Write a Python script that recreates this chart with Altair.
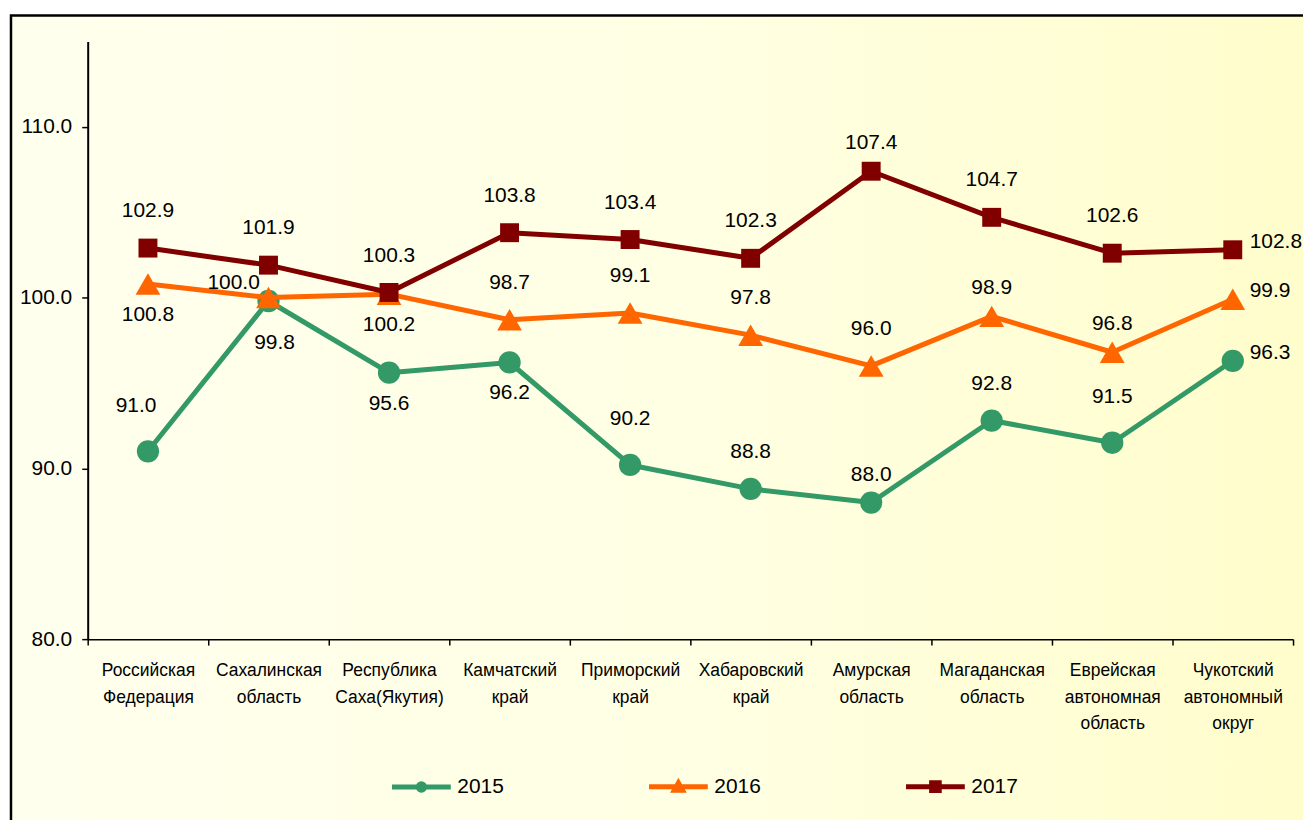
import altair as alt
import pandas as pd

# ---------------- data ----------------
REGIONS = [
    "Российская\nФедерация",
    "Сахалинская\nобласть",
    "Республика\nСаха(Якутия)",
    "Камчатский\nкрай",
    "Приморский\nкрай",
    "Хабаровский\nкрай",
    "Амурская\nобласть",
    "Магаданская\nобласть",
    "Еврейская\nавтономная\nобласть",
    "Чукотский\nавтономный\nокруг",
]
YEARS = ["2015", "2016", "2017"]
V2015 = [91.0, 99.8, 95.6, 96.2, 90.2, 88.8, 88.0, 92.8, 91.5, 96.3]
V2016 = [100.8, 100.0, 100.2, 98.7, 99.1, 97.8, 96.0, 98.9, 96.8, 99.9]
V2017 = [102.9, 101.9, 100.3, 103.8, 103.4, 102.3, 107.4, 104.7, 102.6, 102.8]

# label placement codes (above / below / right / upper-left ...)
P2015 = ["al", "b2", "b", "b", "ah", "a", "an", "a", "ah", "r"]
P2016 = ["b", "l", "b", "a", "a", "a", "a", "an", "an", "r"]
P2017 = ["a", "a", "a", "a", "a", "a", "an", "a", "a", "r"]

COLORS = ["#339966", "#FF6600", "#800000"]
SHAPES = ["circle", "triangle-up", "square"]
SIZES = [500, 620, 361]

rows = []
for yr, vals, pos in zip(YEARS, [V2015, V2016, V2017], [P2015, P2016, P2017]):
    for r, v, p in zip(REGIONS, vals, pos):
        rows.append({"region": r, "year": yr, "value": v, "pos": p})
df = pd.DataFrame(rows)

FONT = "Liberation Sans"
W, H = 1210, 600

# ---------------- legend symbols (line + marker) ----------------
PATH_C = "M-1,0L1,0M-0.11,0A0.11,0.11,0,1,1,0.11,0A0.11,0.11,0,1,1,-0.11,0Z"
PATH_T = "M-1,0L1,0M-0.14,0.12L0,-0.13L0.14,0.12Z"
PATH_S = "M-1,0L1,0M-0.13,-0.13L0.13,-0.13L0.13,0.13L-0.13,0.13Z"

LEG_SIZE = 3481
legend = alt.Legend(
    title=None,
    orient="none",
    legendX=303,
    legendY=716,
    direction="horizontal",
    columns=3,
    columnPadding=135,
    symbolSize=LEG_SIZE,
    symbolStrokeWidth=5,
    symbolOpacity=1,
    labelFont=FONT,
    labelFontSize=21,
    labelColor="black",
    labelOffset=4,
)

x_enc = alt.X(
    "region:N",
    sort=REGIONS,
    scale=alt.Scale(type="band", paddingInner=0, paddingOuter=0),
    axis=alt.Axis(
        title=None,
        labelAngle=0,
        labelExpr="split(datum.label, '\\n')",
        labelFont=FONT,
        labelFontSize=17.5,
        labelLineHeight=26.5,
        labelColor="black",
        labelBaseline="top",
        labelPadding=17,
        tickBand="extent",
        tickSize=6,
        tickColor="black",
        tickWidth=1.5,
        domainColor="black",
        domainWidth=1.5,
        grid=False,
        zindex=1,
    ),
)
y_enc = alt.Y(
    "value:Q",
    scale=alt.Scale(domain=[80, 115], nice=False, zero=False),
    axis=alt.Axis(
        title=None,
        values=[80, 90, 100, 110],
        format=".1f",
        labelFont=FONT,
        labelFontSize=21,
        labelColor="black",
        labelPadding=10,
        tickSize=6,
        tickColor="black",
        tickWidth=1.5,
        domainColor="black",
        domainWidth=2,
        grid=False,
        zindex=1,
    ),
)
color_scale = alt.Scale(domain=YEARS, range=COLORS)
color_nolegend = alt.Color("year:N", scale=color_scale, legend=None)

# background panel with gradient and frame
bg = (
    alt.Chart(pd.DataFrame({"k": [0]}))
    .mark_rect(
        fill=alt.LinearGradient(
            gradient="linear",
            stops=[
                alt.GradientStop(color="#FFFFEE", offset=0),
                alt.GradientStop(color="#FFFFE4", offset=0.5),
                alt.GradientStop(color="#FFFDCA", offset=1),
            ],
            x1=0, x2=1, y1=0, y2=0,
        ),
        stroke="black",
        strokeWidth=2.5,
    )
    .encode(
        x=alt.value(-77),
        x2=alt.value(W + 40),
        y=alt.value(-26),
        y2=alt.value(H + 260),
    )
)

base = alt.Chart(df)

# invisible layer that only carries the legend (line + marker symbols)
legend_layer = base.mark_point(filled=True, opacity=0).encode(
    x=x_enc,
    y=y_enc,
    color=alt.Color("year:N", scale=color_scale, legend=legend),
    stroke=alt.Stroke("year:N", scale=alt.Scale(domain=YEARS, range=COLORS), legend=legend),
    shape=alt.Shape(
        "year:N", scale=alt.Scale(domain=YEARS, range=[PATH_C, PATH_T, PATH_S]), legend=legend
    ),
)

layers = [bg, legend_layer]
for yr, shp, sz in zip(YEARS, SHAPES, SIZES):
    sub = base.transform_filter(alt.datum.year == yr)
    layers.append(
        sub.mark_line(strokeWidth=5, strokeJoin="round", strokeCap="round").encode(
            x=x_enc, y=y_enc, color=color_nolegend
        )
    )
    layers.append(
        sub.mark_point(shape=shp, size=sz, filled=True, opacity=1, strokeWidth=0).encode(
            x=x_enc, y=y_enc, color=color_nolegend
        )
    )

OFFS = {
    "a": dict(dx=0, dy=-37, align="center"),
    "ah": dict(dx=0, dy=-46, align="center"),
    "an": dict(dx=0, dy=-28, align="center"),
    "b": dict(dx=0, dy=31, align="center"),
    "b2": dict(dx=6, dy=42, align="center"),
    "r": dict(dx=17, dy=-8, align="left"),
    "l": dict(dx=-35, dy=-15, align="center"),
    "al": dict(dx=-12, dy=-45, align="center"),
}
for code, o in OFFS.items():
    layers.append(
        base.transform_filter(alt.datum.pos == code)
        .mark_text(
            font=FONT, fontSize=21, color="black", baseline="middle",
            align=o["align"], dx=o["dx"], dy=o["dy"],
        )
        .encode(x=x_enc, y=y_enc, text=alt.Text("value:Q", format=".1f"))
    )

chart = (
    alt.layer(*layers)
    .properties(
        width=W,
        height=H,
        background="white",
        padding={"left": 80, "top": 32, "right": 10, "bottom": 180},
        autosize=alt.AutoSizeParams(type="none"),
    )
    .configure_view(stroke=None)
)

chart.save("out.html", embed_options={"renderer": "svg", "actions": False})
